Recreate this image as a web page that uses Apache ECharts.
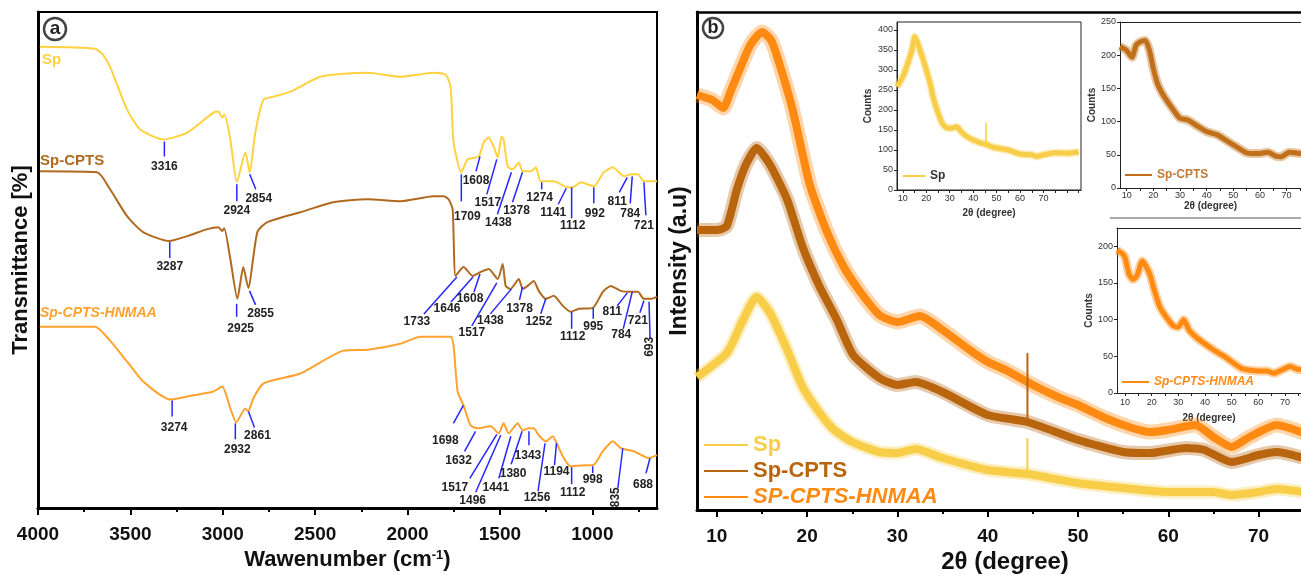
<!DOCTYPE html>
<html>
<head>
<meta charset="utf-8">
<script src="https://cdn.jsdelivr.net/npm/echarts@6/dist/echarts.min.js"></script>
<style>
  html, body { margin: 0; padding: 0; background: #fff; }
  #chart { width: 1301px; height: 576px; }
</style>
</head>
<body>
<div id="chart"></div>
<script>
// ---- panel (a) FTIR: [wavenumber cm-1, relative transmittance] ----
const ftirSp = [[3990,463],[3691,461],[3648,455],[3610,443],[3518,400],[3447,380],[3322,370],[3192,377],[3051,397],[3024,398],[3003,392],[2992,395],[2959,370],[2924,327],[2878,357],[2854,337],[2824,377],[2780,410],[2726,413],[2634,418],[2488,432],[2401,435],[2217,437],[2038,433],[1859,437],[1794,435],[1767,423],[1751,367],[1709,337],[1675,350],[1615,353],[1588,367],[1561,372],[1534,363],[1512,352],[1491,373],[1480,370],[1458,343],[1431,340],[1398,347],[1377,338],[1333,338],[1306,342],[1279,328],[1209,328],[1133,322],[1106,322],[1062,327],[992,323],[938,337],[889,342],[829,333],[791,335],[753,335],[721,328],[650,328]];
const ftirCpts = [[3990,338],[3680,337],[3610,320],[3518,293],[3431,277],[3290,268],[3192,273],[3084,280],[3024,282],[3003,278],[2992,281],[2959,250],[2921,210],[2889,242],[2862,221],[2813,277],[2759,287],[2580,297],[2401,307],[2217,310],[2038,308],[1859,313],[1805,313],[1778,310],[1756,300],[1740,233],[1697,242],[1648,233],[1604,237],[1561,240],[1512,230],[1485,245],[1469,223],[1442,220],[1398,230],[1377,220],[1350,223],[1317,228],[1290,218],[1252,210],[1209,213],[1160,203],[1117,197],[1073,200],[997,201],[943,217],[900,223],[846,218],[791,217],[753,217],[721,210],[683,210],[650,212]];
const ftirHnmaa = [[3990,182],[3691,182],[3610,168],[3518,147],[3431,127],[3285,109],[3192,112],[3051,117],[3003,122],[2959,100],[2927,86],[2878,100],[2862,97],[2835,110],[2780,125],[2580,135],[2347,158],[2217,159],[2038,165],[1930,172],[1767,172],[1751,163],[1729,117],[1697,103],[1659,83],[1621,80],[1550,82],[1507,75],[1480,85],[1453,75],[1404,85],[1377,78],[1344,80],[1317,80],[1290,73],[1252,67],[1214,72],[1198,67],[1154,50],[1117,42],[1046,43],[997,43],[943,57],[889,67],[846,60],[775,57],[694,50],[650,53]];

// peak labels: [wavenumber, level, text]
const spPeaks = [[3316,368,'3316'],[2924,325,'2924'],[2854,335,'2854'],[1709,335,'1709'],[1608,353,'1608'],[1517,350,'1517'],[1438,337,'1438'],[1378,337,'1378'],[1274,327,'1274'],[1141,321,'1141'],[1112,322,'1112'],[992,322,'992'],[811,332,'811'],[784,333,'784'],[721,327,'721']];
const cptsPeaks = [[3287,267,'3287'],[2925,205,'2925'],[2855,218,'2855'],[1733,232,'1733'],[1646,232,'1646'],[1608,235,'1608'],[1517,226,'1517'],[1438,220,'1438'],[1378,222,'1378'],[1252,210,'1252'],[1112,197,'1112'],[995,201,'995'],[811,216,'811'],[784,217,'784'],[721,208,'721'],[693,207,'693']];
const hnmaaPeaks = [[3274,108,'3274'],[2932,85,'2932'],[2861,97,'2861'],[1698,103,'1698'],[1632,77,'1632'],[1517,74,'1517'],[1496,73,'1496'],[1441,72,'1441'],[1380,77,'1380'],[1343,77,'1343'],[1256,65,'1256'],[1194,65,'1194'],[1112,41,'1112'],[998,42,'998'],[835,60,'835'],[688,50,'688']];

// leader line / text offsets in px: [lineDx, lineDy, textDx, textDy, rotated]
const spLeaders = [[0,15,0,25],[0,17,0,26],[6,15,9,24],[0,27,6,42],[-4,15,-4,24],[-10,35,-9,43],[-14,42,-13,50],[-10,30,-6,38],[0,7,-2,15],[-8,16,-13,24],[0,31,1,38],[0,16,1,26],[-8,15,-10,24],[-2,27,-2,37],[2,33,0,43]];
const cptsLeaders = [[0,16,0,25],[0,13,4,25],[6,14,11,23],[-33,37,-40,45],[-22,25,-26,32],[-6,18,-10,25],[-25,43,-25,50],[-21,25,-21,32],[-3,13,-3,22],[-5,15,-7,23],[0,17,1,25],[0,11,0,19],[-10,13,-15,19],[-9,37,-11,43],[-4,12,-6,20],[1,37,1,45,1]];
const hnmaaLeaders = [[0,16,2,27],[0,16,2,26],[6,16,9,24],[-10,18,-18,35],[-11,20,-17,29],[-27,44,-42,53],[-25,57,-28,65],[-12,42,-15,51],[-11,33,-9,42],[0,14,-1,24],[-7,48,-8,54],[-2,22,0,28],[0,17,1,26],[0,7,0,14],[-5,40,-7,49,1],[-4,15,-7,26]];

// ---- panel (b) XRD main: [2theta, relative intensity] ----
const xrdSp = [[7.8,133],[11.1,157],[12.9,190],[14.4,213],[15.9,197],[17.8,160],[19.5,123],[21.4,97],[23,80],[25,68],[28,58],[30,57],[32,61],[35,52],[40,40],[44.4,36],[50,27],[55,22],[60,18],[65,18],[67,15],[70,18],[72,21],[75,18]];
const xrdCpts = [[7.8,280],[10,280],[11.1,284],[12.2,320],[13.2,345],[14.4,362],[15.9,345],[17.8,310],[19.5,263],[21.4,223],[23.3,190],[25.1,155],[28,132],[30,125],[32,128],[35,118],[40,95],[44.4,88],[50,70],[55,58],[58,57],[62,62],[64,60],[67,48],[70,55],[72,58],[75,52]];
const xrdHnmaa = [[7.8,415],[9.5,410],[10.7,402],[11.5,418],[12.5,440],[13.7,465],[15,478],[16,470],[16.8,450],[18.4,400],[20.3,325],[22.2,278],[24,244],[25.9,218],[28,195],[30,188],[32.5,194],[35,180],[38,160],[40,148],[42,140],[45,125],[48,112],[50,105],[53,92],[56,82],[58,78],[60,80],[63,85],[65,73],[67,63],[69,73],[72,85],[75,77]];
// sharp reflection near 44.4 deg: [2theta, foot], [2theta, tip]
const xrdSpikeSp = [[44.4,36],[44.4,72]];
const xrdSpikeCpts = [[44.4,88],[44.4,157]];

// ---- insets: [2theta, counts] ----
const insetSp = [[7.5,258],[10,283],[12,315],[13.9,350],[15.1,383],[16.5,365],[17.3,350],[19,320],[20,300],[21.6,268],[23,230],[25,193],[27,165],[29,155],[31,155],[33,158],[35,145],[37.4,133],[40,125],[43,118],[45.5,114],[47,110],[50,105],[55,100],[60,90],[65,88],[67,84],[70,88],[75,93],[80,92],[85,95]];
const insetSpSpike = [[45.5,114],[45.5,168]];
const insetCpts = [[7.5,213],[10,207],[12,197],[13.5,215],[15,220],[17,222],[18.5,208],[20,180],[21.5,158],[23,145],[25,132],[28,115],[30,105],[32.5,103],[34,100],[37,92],[40,85],[44,80],[48,70],[52,60],[55,53],[58,52],[60,52],[63,54],[66,48],[68,47],[71,54],[75,52],[76,53]];
const insetHnmaa = [[7,195],[9,190],[10,185],[11.5,162],[13,155],[14.5,160],[16.5,180],[18,172],[19.5,160],[21,140],[23,118],[25,106],[28,92],[30,90],[32,100],[34,86],[37,75],[40,67],[44,57],[48,48],[51,40],[54,33],[57,31],[60,30],[63,30],[66,27],[68,30],[72,36],[75,32],[76,32]];

// ---- tick values ----
const ftirTicks = [1000,1500,2000,2500,3000,3500,4000];
const ftirMinorTicks = [750,1250,1750,2250,2750,3250,3750];
const xrdTicks = [10,20,30,40,50,60,70];
const xrdMinorTicks = [15,25,35,45,55,65];
const insetXLabels = [10,20,30,40,50,60,70];
const insetXTicks = [10,15,20,25,30,35,40,45,50,55,60,65,70,75,80,85];
const insetSpY = [0,50,100,150,200,250,300,350,400];
const insetCptsY = [0,50,100,150,200,250];
const insetHnmaaY = [0,50,100,150,200];

const FONT = '"Liberation Sans", Arial, sans-serif';
const col = {
  sp: '#FFD23F', cpts: '#B06A1F', hn: '#FFA22E',
  xSp: '#F8CE48', xCpts: '#B8650E', xHn: '#FF8A12', iCpts: '#C0701A'
};

const chart = echarts.init(document.getElementById('chart'));

function peakSeries(peaks, leaders) {
  return {
    type: 'custom', name: 'peaks', coordinateSystem: 'cartesian2d',
    xAxisIndex: 0, yAxisIndex: 0, z: 4, silent: true,
    data: peaks.map(p => [p[0], p[1]]),
    renderItem: (params, api) => {
      const i = params.dataIndex;
      const pt = api.coord([api.value(0), api.value(1)]);
      const L = leaders[i];
      return {
        type: 'group',
        children: [
          { type: 'line', shape: { x1: pt[0], y1: pt[1], x2: pt[0] + L[0], y2: pt[1] + L[1] },
            style: { stroke: '#2626ff', lineWidth: 1.5 } },
          { type: 'text', x: pt[0] + L[2], y: pt[1] + L[3], rotation: L[4] ? Math.PI / 2 : 0,
            style: { text: peaks[i][2], font: 'bold 12px ' + FONT, fill: '#222',
                     align: 'center', verticalAlign: 'middle' } }
        ]
      };
    }
  };
}

function lineSeries(name, data, color, width, xi, yi, opacity, smooth) {
  return {
    type: 'line', name: name, data: data, xAxisIndex: xi, yAxisIndex: yi,
    showSymbol: false, smooth: smooth == null ? 0.2 : smooth, color: color, silent: true,
    lineStyle: { color: color, width: width, opacity: opacity == null ? 1 : opacity }
  };
}

// top frame line drawn as an axis with only its line
function frameTop(grid, min, max, width, color) {
  return {
    type: 'value', gridIndex: grid, min: min, max: max, position: 'top',
    axisLine: { lineStyle: { color: color, width: width } },
    axisTick: { show: false }, axisLabel: { show: false }, splitLine: { show: false }
  };
}

function insetX(grid, min, max, nameGap, labelMargin) {
  return {
    type: 'value', gridIndex: grid, min: min, max: max, position: 'bottom',
    axisLine: { lineStyle: { color: '#222', width: 1 } },
    axisTick: { customValues: insetXTicks.filter(v => v < max), length: 3, lineStyle: { color: '#222' } },
    axisLabel: { customValues: insetXLabels, fontSize: 9, color: '#333', margin: labelMargin, fontFamily: FONT },
    splitLine: { show: false },
    name: '2\u03b8 (degree)', nameLocation: 'middle', nameGap: nameGap,
    nameTextStyle: { fontSize: 10, fontWeight: 'bold', color: '#333', fontFamily: FONT }
  };
}
function insetY(grid, max, ticks, nameGap) {
  return {
    type: 'value', gridIndex: grid, min: 0, max: max,
    axisLine: { show: true, lineStyle: { color: '#222', width: 1 } },
    axisTick: { show: true, customValues: ticks, length: 3, lineStyle: { color: '#222' } },
    axisLabel: { customValues: ticks, fontSize: 9, color: '#333', margin: 4, fontFamily: FONT },
    splitLine: { show: false },
    name: 'Counts', nameLocation: 'middle', nameGap: nameGap,
    nameTextStyle: { fontSize: 10, fontWeight: 'bold', color: '#333', fontFamily: FONT }
  };
}

const option = {
  animation: false,
  backgroundColor: '#fff',
  textStyle: { fontFamily: FONT },
  grid: [
    { left: 38, top: 12, width: 619, height: 498, show: true, borderColor: '#000', borderWidth: 2 },
    { left: 697, top: 12, width: 604, height: 498 },
    { left: 897, top: 22, width: 184, height: 168, show: true, borderColor: '#222', borderWidth: 1 },
    { left: 1120, top: 22, width: 181, height: 166 },
    { left: 1117, top: 228, width: 184, height: 165 }
  ],
  xAxis: [
    {
      type: 'value', gridIndex: 0, min: 650, max: 4000, inverse: true, position: 'bottom',
      axisLine: { lineStyle: { color: '#000', width: 3 } },
      axisTick: { customValues: ftirTicks, length: 7, lineStyle: { color: '#000', width: 2 } },
      axisLabel: { customValues: ftirTicks, formatter: v => String(v), fontSize: 19, fontWeight: 'bold', color: '#111', margin: 17, fontFamily: FONT },
      splitLine: { show: false },
      name: 'Wawenumber (cm{sup|-1})', nameLocation: 'middle', nameGap: 41,
      nameTextStyle: {
        fontSize: 22, fontWeight: 'bold', color: '#111', fontFamily: FONT,
        rich: { sup: { fontSize: 13, fontWeight: 'bold', color: '#111', verticalAlign: 'top', fontFamily: FONT } }
      }
    },
    {
      type: 'value', gridIndex: 0, min: 650, max: 4000, inverse: true, position: 'bottom',
      axisLine: { show: false },
      axisTick: { customValues: ftirMinorTicks, length: 4, lineStyle: { color: '#000', width: 2 } },
      axisLabel: { show: false }, splitLine: { show: false }
    },
    {
      type: 'value', gridIndex: 1, min: 7.8, max: 74.7, position: 'bottom',
      axisLine: { lineStyle: { color: '#000', width: 3 } },
      axisTick: { customValues: xrdTicks, length: 7, lineStyle: { color: '#000', width: 2 } },
      axisLabel: { customValues: xrdTicks, fontSize: 19, fontWeight: 'bold', color: '#111', margin: 17, fontFamily: FONT },
      splitLine: { show: false }
    },
    {
      type: 'value', gridIndex: 1, min: 7.8, max: 74.7, position: 'bottom',
      axisLine: { show: false },
      axisTick: { customValues: xrdMinorTicks, length: 4, lineStyle: { color: '#000', width: 2 } },
      axisLabel: { show: false }, splitLine: { show: false }
    },
    insetX(2, 7.5, 86, 18, 4),
    insetX(3, 7.5, 75.4, 12, 3),
    insetX(4, 7, 76, 20, 5),
    frameTop(1, 7.8, 74.7, 2.5, '#000'),
    frameTop(3, 7.5, 75.4, 1, '#222'),
    frameTop(4, 7, 76, 1, '#222')
  ],
  yAxis: [
    {
      type: 'value', gridIndex: 0, min: 0, max: 498,
      axisLine: { show: true, lineStyle: { color: '#000', width: 3 } },
      axisTick: { show: false }, axisLabel: { show: false }, splitLine: { show: false },
      name: 'Transmittance [%]', nameLocation: 'middle', nameGap: 6,
      nameTextStyle: { fontSize: 22, fontWeight: 'bold', color: '#111', fontFamily: FONT }
    },
    {
      type: 'value', gridIndex: 1, min: 0, max: 498,
      axisLine: { show: true, lineStyle: { color: '#000', width: 3 } },
      axisTick: { show: false }, axisLabel: { show: false }, splitLine: { show: false },
      name: 'Intensity (a.u)', nameLocation: 'middle', nameGap: 6,
      nameTextStyle: { fontSize: 23, fontWeight: 'bold', color: '#111', fontFamily: FONT }
    },
    insetY(2, 420, insetSpY, 24),
    insetY(3, 250, insetCptsY, 21),
    insetY(4, 225, insetHnmaaY, 22)
  ],
  legend: [
    {
      left: 704, top: 434, orient: 'vertical', padding: 0, itemGap: 4,
      itemWidth: 44, itemHeight: 2, icon: 'rect', selectedMode: false,
      textStyle: { fontSize: 22, fontWeight: 'bold', fontFamily: FONT },
      data: [
        { name: 'Sp', textStyle: { color: col.xSp } },
        { name: 'Sp-CPTS', textStyle: { color: col.xCpts } },
        { name: 'SP-CPTS-HNMAA', textStyle: { color: col.xHn, fontStyle: 'italic' } }
      ]
    },
    {
      left: 903, top: 170, padding: 0, itemWidth: 22, itemHeight: 2, icon: 'rect', selectedMode: false,
      textStyle: { fontSize: 12, fontWeight: 'bold', color: '#333', fontFamily: FONT },
      data: ['Sp ']
    },
    {
      left: 1125, top: 169, padding: 0, itemWidth: 27, itemHeight: 2, icon: 'rect', selectedMode: false,
      textStyle: { fontSize: 12, fontWeight: 'bold', color: '#C47A35', fontFamily: FONT },
      data: ['Sp-CPTS ']
    },
    {
      left: 1122, top: 376, padding: 0, itemWidth: 27, itemHeight: 2, icon: 'rect', selectedMode: false,
      textStyle: { fontSize: 12, fontWeight: 'bold', fontStyle: 'italic', color: '#FF8C1A', fontFamily: FONT },
      data: ['Sp-CPTS-HNMAA ']
    }
  ],
  graphic: [
    { type: 'circle', shape: { cx: 55, cy: 29, r: 11 }, style: { fill: '#fff', stroke: '#444', lineWidth: 2.5 }, z: 10 },
    { type: 'text', x: 55, y: 29, z: 11, style: { text: 'a', font: 'bold 19px ' + FONT, fill: '#222', align: 'center', verticalAlign: 'middle' } },
    { type: 'circle', shape: { cx: 713, cy: 28, r: 10 }, style: { fill: '#fff', stroke: '#444', lineWidth: 2.5 }, z: 10 },
    { type: 'text', x: 713, y: 28, z: 11, style: { text: 'b', font: 'bold 18px ' + FONT, fill: '#222', align: 'center', verticalAlign: 'middle' } },
    { type: 'text', x: 42, y: 60, style: { text: 'Sp', font: 'bold 15px ' + FONT, fill: col.sp, verticalAlign: 'middle' } },
    { type: 'text', x: 40, y: 161, style: { text: 'Sp-CPTS', font: 'bold 15px ' + FONT, fill: col.cpts, verticalAlign: 'middle' } },
    { type: 'text', x: 40, y: 313, style: { text: 'Sp-CPTS-HNMAA', font: 'italic bold 14px ' + FONT, fill: col.hn, verticalAlign: 'middle' } },
    { type: 'text', x: 1005, y: 562, style: { text: '2\u03b8 (degree)', font: 'bold 24px ' + FONT, fill: '#111', align: 'center', verticalAlign: 'middle' } },
    { type: 'line', shape: { x1: 1110, y1: 218, x2: 1301, y2: 218 }, style: { stroke: '#555', lineWidth: 1 } }
  ],
  series: [
    lineSeries('Sp FTIR', ftirSp, col.sp, 2, 0, 0),
    lineSeries('Sp-CPTS FTIR', ftirCpts, col.cpts, 2, 0, 0),
    lineSeries('Sp-CPTS-HNMAA FTIR', ftirHnmaa, col.hn, 2, 0, 0),
    peakSeries(spPeaks, spLeaders),
    peakSeries(cptsPeaks, cptsLeaders),
    peakSeries(hnmaaPeaks, hnmaaLeaders),

    lineSeries('sp band', xrdSp, col.xSp, 13, 2, 1, 0.35),
    lineSeries('cpts band', xrdCpts, col.xCpts, 14, 2, 1, 0.35),
    lineSeries('hn band', xrdHnmaa, col.xHn, 15, 2, 1, 0.35),
    lineSeries('Sp', xrdSp, col.xSp, 8, 2, 1),
    lineSeries('Sp-CPTS', xrdCpts, col.xCpts, 8, 2, 1),
    lineSeries('SP-CPTS-HNMAA', xrdHnmaa, col.xHn, 8, 2, 1),
    lineSeries('sp spike', xrdSpikeSp, col.xSp, 2, 2, 1, 1, false),
    lineSeries('cpts spike', xrdSpikeCpts, col.xCpts, 2, 2, 1, 1, false),

    lineSeries('sp inset band', insetSp, col.xSp, 8, 4, 2, 0.4),
    lineSeries('Sp ', insetSp, col.xSp, 5, 4, 2),
    lineSeries('sp inset spike', insetSpSpike, col.xSp, 1.5, 4, 2, 1, false),
    lineSeries('cpts inset band', insetCpts, col.iCpts, 9, 5, 3, 0.4),
    lineSeries('Sp-CPTS ', insetCpts, col.iCpts, 5, 5, 3),
    lineSeries('hn inset band', insetHnmaa, col.xHn, 9, 6, 4, 0.4),
    lineSeries('Sp-CPTS-HNMAA ', insetHnmaa, col.xHn, 5, 6, 4)
  ]
};

chart.setOption(option);
</script>
</body>
</html>
